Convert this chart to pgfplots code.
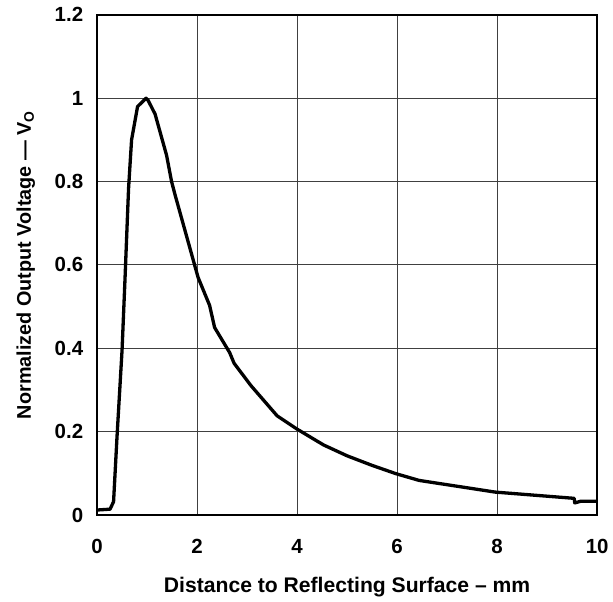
\documentclass[border=0pt]{standalone}
\usepackage{pgfplots}
\pgfplotsset{compat=1.18}
\usepackage{fontspec}
\setmainfont{Liberation Sans}
\begin{document}
\begin{tikzpicture}
\begin{axis}[
  scale only axis,
  width=378.75pt, height=378.75pt,
  xmin=0, xmax=10, ymin=0, ymax=1.2,
  xtick={0,2,4,6,8,10}, ytick={0,0.2,0.4,0.6,0.8,1,1.2},
  yticklabels={0,0.2,0.4,0.6,0.8,1,1.2},
  grid=major,
  major grid style={black!75, line width=0.8pt},
  axis line style={black, line width=1.6pt},
  major tick length=0pt,
  /pgf/number format/assume math mode=true,
  tick label style={font=\fontsize{15.5}{17}\selectfont\bfseries},
  xticklabel style={yshift=-15pt},
  yticklabel style={xshift=-7pt},
  xlabel style={font=\fontsize{16}{18}\selectfont\bfseries, yshift=-11pt},
  ylabel style={font=\fontsize{15}{17}\selectfont\bfseries, yshift=8pt},
  xlabel={Distance to Reflecting Surface -- mm},
  ylabel={Normalized Output Voltage --- V\textsubscript{O}},
]
\addplot[black, line width=2.5pt, line join=round] coordinates {
(0,0.012) (0.26,0.014) (0.33,0.032) (0.40,0.19) (0.5,0.396) (0.56,0.57)
(0.63,0.784) (0.69,0.90) (0.81,0.98) (0.98,1.0) (1.02,0.995) (1.16,0.962)
(1.39,0.863) (1.49,0.80) (1.56,0.768) (1.95,0.60) (2.02,0.57) (2.25,0.503)
(2.35,0.45) (2.65,0.39) (2.74,0.364) (3.08,0.31) (3.6,0.238) (4.0,0.206)
(4.53,0.168) (5.0,0.142) (5.5,0.119) (5.98,0.099) (6.44,0.083) (7.96,0.055)
(9.54,0.04) (9.55,0.029) (9.67,0.033) (10,0.033)
};
\end{axis}
\path ([xshift=-73.5pt,yshift=-58.5pt]current axis.south west) rectangle ([xshift=7.5pt,yshift=11.25pt]current axis.north east);
\end{tikzpicture}
\end{document}
